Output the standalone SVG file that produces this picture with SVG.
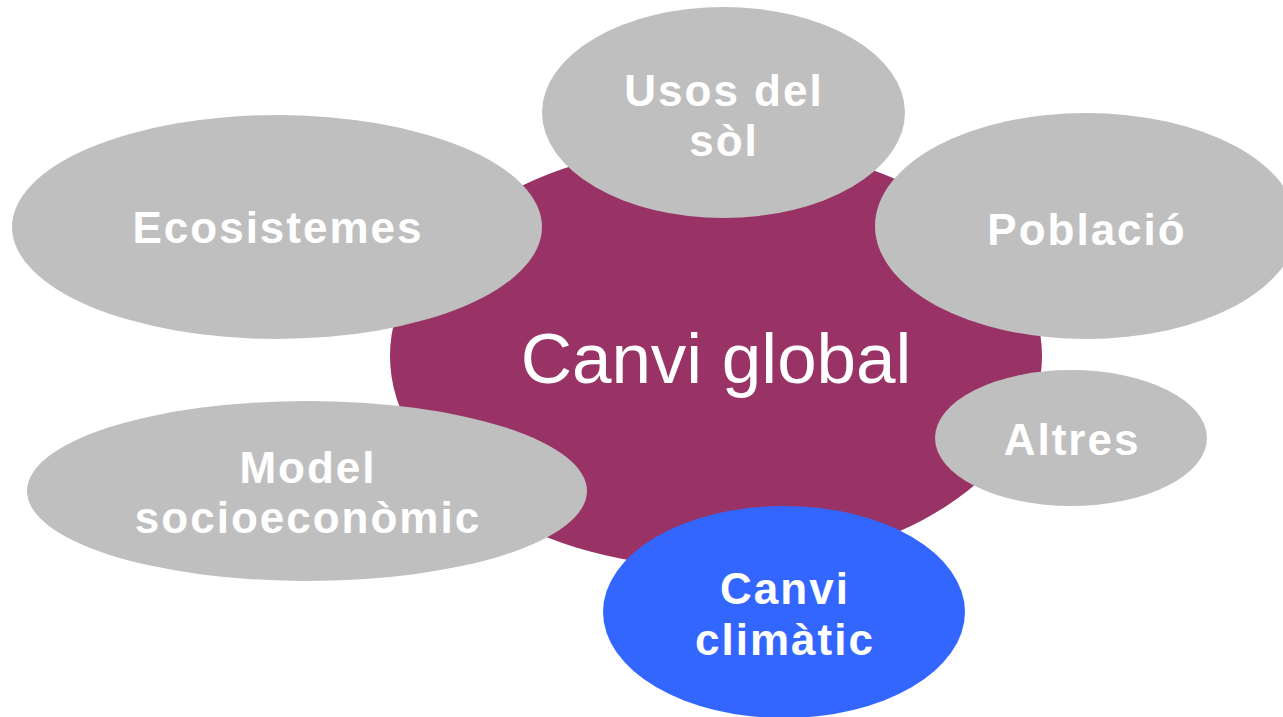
<svg xmlns="http://www.w3.org/2000/svg" width="1283" height="717" viewBox="0 0 1283 717">
  <style>
    .sat { fill: #BFBFBF; }
    .lbl { fill: #FFFFFF; font-family: "Liberation Sans", Arial, sans-serif; font-weight: bold; font-size: 44px; letter-spacing: 2px; text-anchor: middle; }
    .main { fill: #FFFFFF; font-family: "Liberation Sans", Arial, sans-serif; font-size: 71px; text-anchor: middle; }
  </style>
  <rect width="1283" height="717" fill="#FFFFFF"/>
  <g id="connectors"></g>
  <g id="canvi-global">
    <ellipse cx="716" cy="356" rx="326" ry="212" fill="#993366"/>
    <text class="main" x="716" y="383">Canvi global</text>
  </g>
  <g id="usos-del-sol">
    <ellipse class="sat" cx="723.5" cy="112.5" rx="181.5" ry="105.5"/>
    <text class="lbl" x="724" y="106">Usos del</text>
    <text class="lbl" x="724" y="156">sòl</text>
  </g>
  <g id="ecosistemes">
    <ellipse class="sat" cx="277" cy="227" rx="265" ry="112"/>
    <text class="lbl" x="278" y="243">Ecosistemes</text>
  </g>
  <g id="poblacio">
    <ellipse class="sat" cx="1086" cy="226" rx="211" ry="113"/>
    <text class="lbl" x="1087" y="245">Població</text>
  </g>
  <g id="altres">
    <ellipse class="sat" cx="1071" cy="438" rx="136" ry="68"/>
    <text class="lbl" x="1072" y="455">Altres</text>
  </g>
  <g id="model-socioeconomic">
    <ellipse class="sat" cx="307" cy="491" rx="280" ry="90"/>
    <text class="lbl" x="308" y="483">Model</text>
    <text class="lbl" x="308" y="533">socioeconòmic</text>
  </g>
  <g id="canvi-climatic">
    <ellipse cx="784" cy="612" rx="181" ry="106" fill="#3366FF"/>
    <text class="lbl" x="785" y="604">Canvi</text>
    <text class="lbl" x="785" y="655">climàtic</text>
  </g>
</svg>
